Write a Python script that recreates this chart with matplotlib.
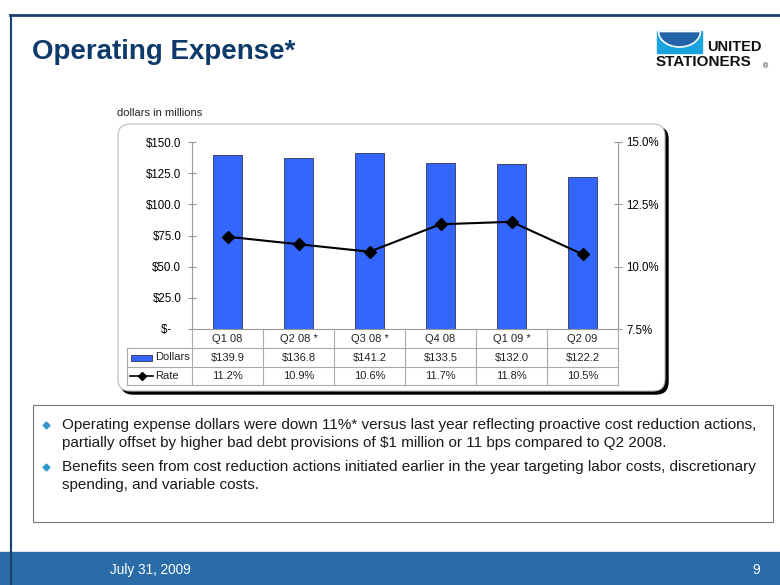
import numpy as np
import matplotlib.pyplot as plt
from matplotlib.patches import FancyBboxPatch, Rectangle, Polygon
from matplotlib.lines import Line2D

# ---- data ----
quarters = ['Q1 08', 'Q2 08 *', 'Q3 08 *', 'Q4 08', 'Q1 09 *', 'Q2 09']
dollars = [139.9, 136.8, 141.2, 133.5, 132.0, 122.2]
rates = [11.2, 10.9, 10.6, 11.7, 11.8, 10.5]
left_ticks = [0, 25, 50, 75, 100, 125, 150]
left_labels = ['$-   ', '$25.0', '$50.0', '$75.0', '$100.0', '$125.0', '$150.0']
right_ticks = [7.5, 10.0, 12.5, 15.0]
right_labels = ['7.5%', '10.0%', '12.5%', '15.0%']
bullets = [
    ["Operating expense dollars were down 11%* versus last year reflecting proactive cost reduction actions,",
     "partially offset by higher bad debt provisions of $1 million or 11 bps compared to Q2 2008."],
    ["Benefits seen from cost reduction actions initiated earlier in the year targeting labor costs, discretionary",
     "spending, and variable costs."],
]

plt.rcParams['font.family'] = ['Liberation Sans', 'DejaVu Sans']

W, H = 780, 585
fig = plt.figure(figsize=(7.8, 5.85), dpi=100)
fig.patch.set_facecolor('white')
P = fig.dpi_scale_trans


def xy(x, y):
    # slide pixel coords (origin top-left) -> inches
    return x / 100, (H - y) / 100


def line(x0, y0, x1, y1, **kw):
    a, b = xy(x0, y0)
    c, d = xy(x1, y1)
    fig.add_artist(Line2D([a, c], [b, d], transform=P, **kw))


def text(x, y, s, **kw):
    fig.text(*xy(x, y), s, transform=P, **kw)


# ---- slide frame ----
navy = '#17406D'
line(10, 15, 780, 15, color=navy, lw=2)
line(11, 15, 11, 585, color=navy, lw=1.5)
fig.add_artist(Rectangle(xy(0, 585), 7.8, 0.33, transform=P, color='#2A6CA8', zorder=-3))
line(11, 552, 11, 585, color='#1B3F66', lw=1.5)
text(110, 570, 'July 31, 2009', color='white', fontsize=9.8, va='center')
text(760, 570, '9', color='white', fontsize=9.8, va='center', ha='right')

text(32, 52, 'Operating Expense*', color='#0E3A6B', fontsize=20, fontweight='bold', va='center')

# logo
fig.add_artist(Rectangle(xy(657, 53), 0.45, 0.22, transform=P, color='#1BA3DE', zorder=2))
t = np.linspace(np.pi, 2 * np.pi, 40)
arc = [xy(679.5 + 21 * np.cos(a), 31.5 - 15.5 * np.sin(a)) for a in t]
fig.add_artist(Polygon(arc, closed=True, transform=P,
                       facecolor='#2463A8', edgecolor='white', lw=1.2, zorder=3))
text(707, 47, 'UNITED', fontsize=10.5, fontweight='bold', va='center', color='#111111')
text(656, 62.5, 'STATIONERS', fontsize=11, fontweight='bold', va='center', color='#111111')
text(763, 67, '®', fontsize=5, va='center', color='#111111')

# ---- chart frame ----
fx0, fy0, fx1, fy1 = 118, 124, 665, 391
fig.add_artist(FancyBboxPatch(xy(fx0 + 3, fy1 + 3), (fx1 - fx0) / 100, (fy1 - fy0) / 100,
                              boxstyle='round,pad=0,rounding_size=0.12', transform=P,
                              facecolor='black', edgecolor='black', zorder=-2))
fig.add_artist(FancyBboxPatch(xy(fx0, fy1), (fx1 - fx0) / 100, (fy1 - fy0) / 100,
                              boxstyle='round,pad=0,rounding_size=0.12', transform=P,
                              facecolor='white', edgecolor='#BBBBBB', lw=0.8, zorder=-1))
text(117, 113, 'dollars in millions', fontsize=8, va='center', color='#222222')

# ---- axes ----
ax0, ax1, ay0, ay1 = 192, 618, 142, 329
ax = fig.add_axes([ax0 / W, 1 - ay1 / H, (ax1 - ax0) / W, (ay1 - ay0) / H])
ax.set_facecolor('none')
xs = list(range(len(quarters)))
ax.bar(xs, dollars, width=0.42, color='#3366FF', edgecolor='#333355', lw=0.6, zorder=2)
ax.set_xlim(-0.5, len(quarters) - 0.5)
ax.set_ylim(0, 150)
ax.set_yticks(left_ticks)
ax.set_yticklabels(left_labels)
ax.set_xticks([])
for s in ['top', 'right']:
    ax.spines[s].set_visible(False)
for s in ['left', 'bottom']:
    ax.spines[s].set_color('#999999')
    ax.spines[s].set_linewidth(0.8)
ax.tick_params(axis='y', direction='inout', length=5.5, color='#999999', labelsize=8.3, pad=5)

ax2 = ax.twinx()
ax2.plot(xs, rates, color='black', lw=1.5, marker='D', ms=6, zorder=3)
ax2.set_ylim(7.5, 15.0)
ax2.set_yticks(right_ticks)
ax2.set_yticklabels(right_labels)
for s in ['top', 'left', 'bottom']:
    ax2.spines[s].set_visible(False)
ax2.spines['right'].set_color('#999999')
ax2.spines['right'].set_linewidth(0.8)
ax2.tick_params(axis='y', direction='inout', length=5.5, color='#999999', labelsize=8.3, pad=3)

# ---- data table ----
gc = '#AAAAAA'
tl = 127
rows = [329, 348, 367, 385]
cw = (ax1 - ax0) / len(quarters)
line(tl, rows[1], ax1, rows[1], color=gc, lw=0.8)
line(tl, rows[2], ax1, rows[2], color=gc, lw=0.8)
line(tl, rows[3], ax1, rows[3], color=gc, lw=0.8)
line(tl, rows[1], tl, rows[3], color=gc, lw=0.8)
for i in range(len(quarters) + 1):
    line(ax0 + i * cw, rows[0], ax0 + i * cw, rows[3], color=gc, lw=0.8)
for i, q in enumerate(quarters):
    cx = ax0 + (i + 0.5) * cw
    text(cx, (rows[0] + rows[1]) / 2, q, fontsize=8, ha='center', va='center', color='#222222')
    text(cx, (rows[1] + rows[2]) / 2, '$%.1f' % dollars[i], fontsize=8, ha='center', va='center', color='#222222')
    text(cx, (rows[2] + rows[3]) / 2, '%.1f%%' % rates[i], fontsize=8, ha='center', va='center', color='#222222')
# legend keys
ym = (rows[1] + rows[2]) / 2
fig.add_artist(Rectangle(xy(131, ym + 3), 0.21, 0.06, transform=P,
                         facecolor='#3366FF', edgecolor='#333355', lw=0.6))
text(155, ym, 'Dollars', fontsize=8, va='center', color='#222222')
ym = (rows[2] + rows[3]) / 2
line(130, ym, 153, ym, color='black', lw=1.2)
fig.add_artist(Line2D([xy(142, ym)[0]], [xy(142, ym)[1]], transform=P, marker='D', ms=4, color='black'))
text(155, ym, 'Rate', fontsize=8, va='center', color='#222222')

# ---- bullet box ----
fig.add_artist(Rectangle(xy(33, 522), (773 - 33) / 100, (522 - 405) / 100, transform=P,
                         facecolor='white', edgecolor='#777777', lw=0.8, zorder=-1))
by = 425
for b in bullets:
    fig.add_artist(Line2D([xy(46, by)[0]], [xy(46, by)[1]], transform=P,
                          marker='D', ms=3.5, color='#3399CC'))
    for j, ln in enumerate(b):
        text(62, by + j * 18, ln, fontsize=11, va='center', color='#1A1A1A')
    by += 42

fig.savefig('out.png', dpi=100)
